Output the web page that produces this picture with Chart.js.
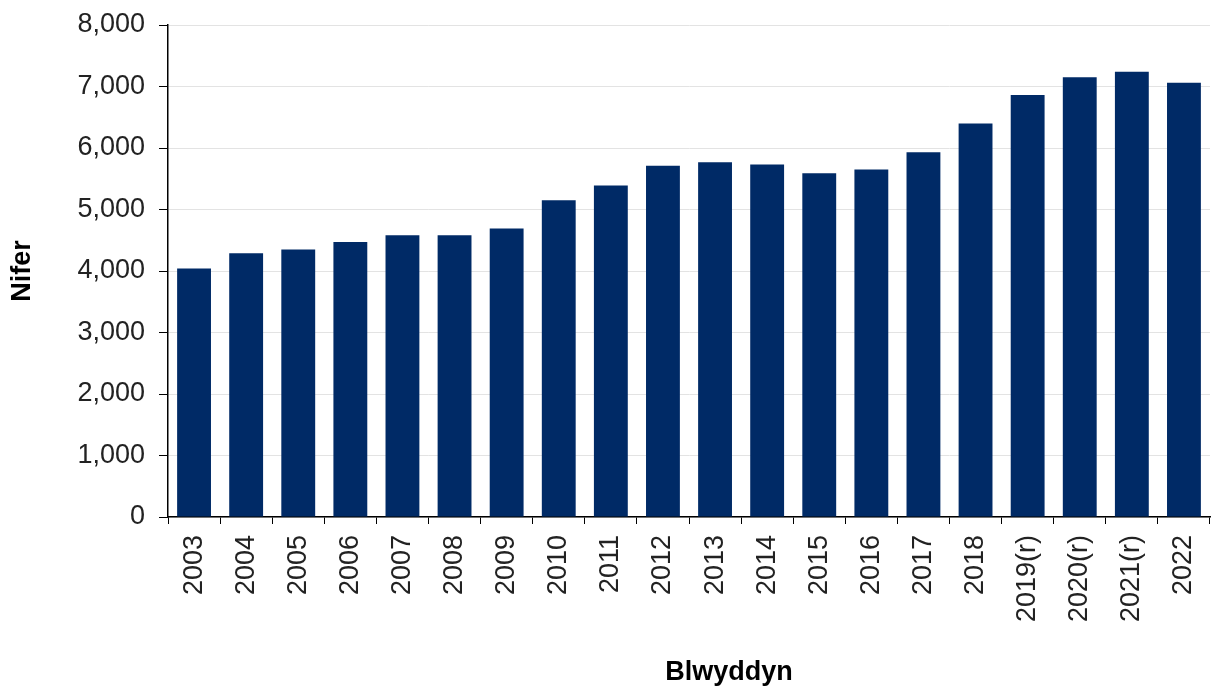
<!DOCTYPE html>
<html>
<head>
<meta charset="utf-8">
<script src="https://cdn.jsdelivr.net/npm/chart.js@4"></script>
<style>
  html, body { margin: 0; padding: 0; background: #fff; }
  #wrap { width: 1213px; height: 689px; }
</style>
</head>
<body>
<div id="wrap"><canvas id="nifer_chart"></canvas></div>
<script>
// Data
const years = ['2003', '2004', '2005', '2006', '2007', '2008', '2009', '2010', '2011', '2012',
    '2013', '2014', '2015', '2016', '2017', '2018', '2019(r)', '2020(r)', '2021(r)', '2022'];
const counts = [4040, 4290, 4350, 4470, 4580, 4580, 4690, 5150, 5390, 5710,
    5770, 5730, 5590, 5650, 5930, 6400, 6860, 7150, 7240, 7060];
const yTicks = [0, 1000, 2000, 3000, 4000, 5000, 6000, 7000, 8000];
const xTitle = 'Blwyddyn';

// x-axis title sits a little right of the plot centre in the original
const xTitlePlugin = {
    id: 'xTitle',
    afterDraw(chart) {
        const c = chart.ctx;
        const area = chart.chartArea;
        c.save();
        c.font = 'bold 27px "Liberation Sans", Arial, sans-serif';
        c.fillStyle = '#000';
        c.textAlign = 'center';
        c.textBaseline = 'alphabetic';
        c.fillText(xTitle, (area.left + area.right) / 2 + 40, 680);
        c.restore();
    }
};

document.addEventListener('DOMContentLoaded', function () {
    const ctx = document.getElementById('nifer_chart').getContext('2d');
    Chart.defaults.font.family = '"Liberation Sans", Arial, sans-serif';
    Chart.defaults.color = '#222';

    new Chart(ctx, {
        type: 'bar',
        data: {
            labels: years,
            datasets: [{
                label: 'Nifer',
                data: counts,
                backgroundColor: '#002a66',
                borderWidth: 0,
                categoryPercentage: 1,
                barPercentage: 0.65
            }]
        },
        options: {
            responsive: true,
            maintainAspectRatio: false,
            animation: false,
            layout: { padding: { top: 25, right: 3, left: 6, bottom: 2 } },
            plugins: {
                legend: { display: false },
                tooltip: { enabled: false }
            },
            scales: {
                y: {
                    min: 0,
                    max: yTicks[yTicks.length - 1],
                    afterBuildTicks: function (axis) {
                        axis.ticks = yTicks.map(v => ({ value: v }));
                    },
                    ticks: {
                        font: { size: 27 },
                        color: '#222',
                        padding: 14,
                        callback: v => v.toLocaleString('en-US')
                    },
                    grid: {
                        color: '#e3e3e3',
                        lineWidth: 1,
                        tickColor: '#000',
                        tickLength: 9
                    },
                    border: { color: '#000', width: 1.5 },
                    title: {
                        display: true,
                        text: 'Nifer',
                        font: { size: 27, weight: 'bold' },
                        color: '#000',
                        padding: { top: 0, bottom: 0 }
                    },
                    afterFit: function (axis) {
                        axis.width = 162;
                        axis.paddingTop = 0;
                        axis.paddingBottom = 0;
                    }
                },
                x: {
                    ticks: {
                        font: { size: 27 },
                        color: '#222',
                        minRotation: 90,
                        maxRotation: 90,
                        autoSkip: false,
                        padding: 11
                    },
                    grid: {
                        offset: true,
                        drawOnChartArea: false,
                        drawTicks: true,
                        tickColor: '#000',
                        tickLength: 7
                    },
                    border: { color: '#000', width: 1.5 },
                    afterFit: function (axis) {
                        axis.height = 170;
                        axis.paddingLeft = 0;
                        axis.paddingRight = 0;
                    }
                }
            }
        },
        plugins: [xTitlePlugin]
    });
});
</script>
</body>
</html>
